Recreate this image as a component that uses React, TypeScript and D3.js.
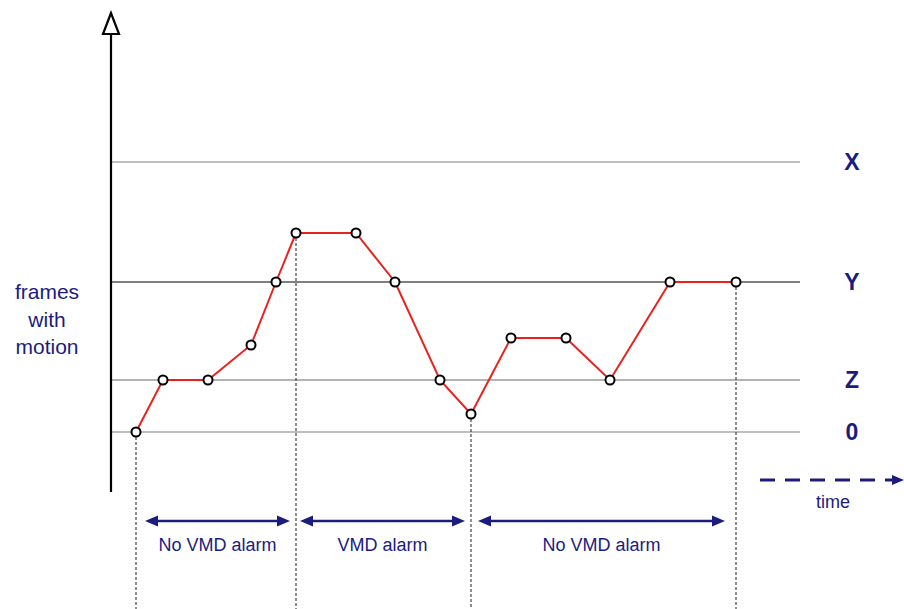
import React from "react";
import * as d3 from "d3";

const times = [25, 52, 97, 140, 165, 185, 245, 284, 329, 360, 400, 455, 499, 559, 625];
const frames = [0, 52, 52, 87, 150, 199, 199, 150, 52, 18, 94, 94, 52, 150, 150];
const levelNames = ["X", "Y", "Z", "0"];
const levelValues = [270, 150, 52, 0];
const levelColors = ["#aaaaaa", "#555555", "#999999", "#aaaaaa"];
const boundaryIdx = [0, 5, 9, 14];
const periodLabels = ["No VMD alarm", "VMD alarm", "No VMD alarm"];
const periodStarts = [34, 189, 367];
const periodEnds = [179, 354, 614];
const leftLabel = ["frames", "with", "motion"];

const W = 904, H = 609;
const navy = "#1c1c7e";

export default function App() {
  const x = d3.scaleLinear().domain([0, 689]).range([111, 800]);
  const y = d3.scaleLinear().domain([0, 420]).range([432, 12]);
  const pts = times.map((t, i) => [x(t), y(frames[i])] as [number, number]);
  const line = d3.line()(pts) || "";
  const arrowY = 521;
  const head = (xx: number, dir: number, yy: number) =>
    `M${xx},${yy} L${xx - dir * 13},${yy - 5.5} L${xx - dir * 13},${yy + 5.5} Z`;
  return (
    <svg width={W} height={H} style={{ position: "absolute", left: 0, top: 0, background: "#fff" }}
      fontFamily="Arial, 'Liberation Sans', sans-serif">
      {levelValues.map((v, i) => (
        <g key={i}>
          <line x1={x(0)} x2={x(689)} y1={y(v)} y2={y(v)} stroke={levelColors[i]} strokeWidth={1.3} />
          <text x={852} y={y(v)} dy="0.36em" textAnchor="middle" fontSize={23} fontWeight="bold" fill={navy}>
            {levelNames[i]}
          </text>
        </g>
      ))}
      {boundaryIdx.map((bi, i) => (
        <line key={i} x1={pts[bi][0]} x2={pts[bi][0]} y1={pts[bi][1]} y2={H}
          stroke="#444" strokeWidth={1.2} strokeDasharray="3,2" />
      ))}
      <line x1={111} x2={111} y1={32} y2={492} stroke="#000" strokeWidth={2.2} />
      <path d="M111,13 L103,34 L119,34 Z" fill="#fff" stroke="#000" strokeWidth={2.2} strokeLinejoin="miter" />
      <path d={line} fill="none" stroke="#e8231e" strokeWidth={2} />
      {pts.map((p, i) => (
        <circle key={i} cx={p[0]} cy={p[1]} r={4.5} fill="#fff" stroke="#000" strokeWidth={2} />
      ))}
      {leftLabel.map((s, i) => (
        <text key={i} x={47} y={292 + i * 27.5} dy="0.35em" textAnchor="middle" fontSize={21} fill={navy}>{s}</text>
      ))}
      {periodLabels.map((s, i) => {
        const a = x(periodStarts[i]), b = x(periodEnds[i]);
        return (
          <g key={i}>
            <line x1={a + 8} x2={b - 8} y1={arrowY} y2={arrowY} stroke={navy} strokeWidth={2.5} />
            <path d={head(a, -1, arrowY)} fill={navy} />
            <path d={head(b, 1, arrowY)} fill={navy} />
            <text x={(a + b) / 2} y={545} dy="0.35em" textAnchor="middle" fontSize={18} fill={navy}>{s}</text>
          </g>
        );
      })}
      <line x1={760} x2={893} y1={480} y2={480} stroke={navy} strokeWidth={3} strokeDasharray="15,10" />
      <path d="M904,480 L892,475 L892,485 Z" fill={navy} />
      <text x={833} y={502} dy="0.35em" textAnchor="middle" fontSize={18} fill={navy}>time</text>
    </svg>
  );
}
